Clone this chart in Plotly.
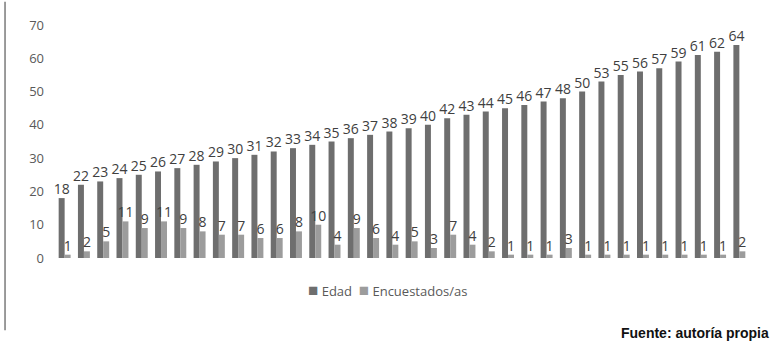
import plotly.graph_objects as go

# Age groups and the number of people surveyed at each age
edades = [18, 22, 23, 24, 25, 26, 27, 28, 29, 30, 31, 32, 33, 34, 35, 36, 37, 38,
          39, 40, 42, 43, 44, 45, 46, 47, 48, 50, 53, 55, 56, 57, 59, 61, 62, 64]
encuestados = [1, 2, 5, 11, 9, 11, 9, 8, 7, 7, 6, 6, 8, 10, 4, 9, 6, 4,
               5, 3, 7, 4, 2, 1, 1, 1, 3, 1, 1, 1, 1, 1, 1, 1, 1, 2]
y_ticks = [0, 10, 20, 30, 40, 50, 60, 70]

categorias = [str(i) for i in range(len(edades))]

COLOR_EDAD = "#6e6e6e"
COLOR_ENC = "#9c9c9c"
label_font = dict(family="Open Sans, sans-serif", size=14, color="#404040")

fig = go.Figure()
fig.add_trace(go.Bar(
    x=categorias, y=edades, name="Edad",
    marker=dict(color=COLOR_EDAD, line=dict(width=0)),
    text=edades, textposition="outside", outsidetextfont=label_font,
    constraintext="none", cliponaxis=False,
))
fig.add_trace(go.Bar(
    x=categorias, y=encuestados, name="Encuestados/as",
    marker=dict(color=COLOR_ENC, line=dict(width=0)),
    text=encuestados, textposition="outside", outsidetextfont=label_font,
    constraintext="none", cliponaxis=False,
))

legend_text = (
    f"<span style='color:{COLOR_EDAD};font-size:17px'>■</span> Edad  "
    f"<span style='color:{COLOR_ENC};font-size:17px'>■</span> Encuestados/as"
)

fig.update_layout(
    width=774, height=343,
    margin=dict(l=55, r=25, t=25, b=85),
    paper_bgcolor="white", plot_bgcolor="white",
    barmode="group", bargap=0.38, bargroupgap=0,
    font=dict(family="Open Sans, sans-serif", color="#595959"),
    showlegend=False,
    xaxis=dict(showticklabels=False, showgrid=False, zeroline=False,
               showline=False, ticks=""),
    yaxis=dict(range=[0, 70], tickvals=y_ticks, showgrid=False,
               zeroline=False, showline=False, ticklabelstandoff=10,
               tickfont=dict(size=13, color="#595959")),
    annotations=[
        dict(
            text=legend_text, xref="paper", yref="paper",
            x=0.362, y=-0.135, xanchor="left", yanchor="middle", showarrow=False,
            font=dict(family="Open Sans, sans-serif", size=13, color="#595959"),
        ),
        dict(
            text="<b>Fuente: autoría propia</b>", xref="paper", yref="paper",
            x=1.031, y=-0.322, xanchor="right", yanchor="middle", showarrow=False,
            font=dict(family="Liberation Sans, Arial, sans-serif", size=14, color="#111111"),
        ),
    ],
    shapes=[dict(
        type="line", xref="paper", yref="paper",
        x0=-0.072, x1=-0.072, y0=1.1, y1=-0.31,
        line=dict(color="#7a7a7a", width=1.5),
    )],
)

fig.write_html("out.html")
